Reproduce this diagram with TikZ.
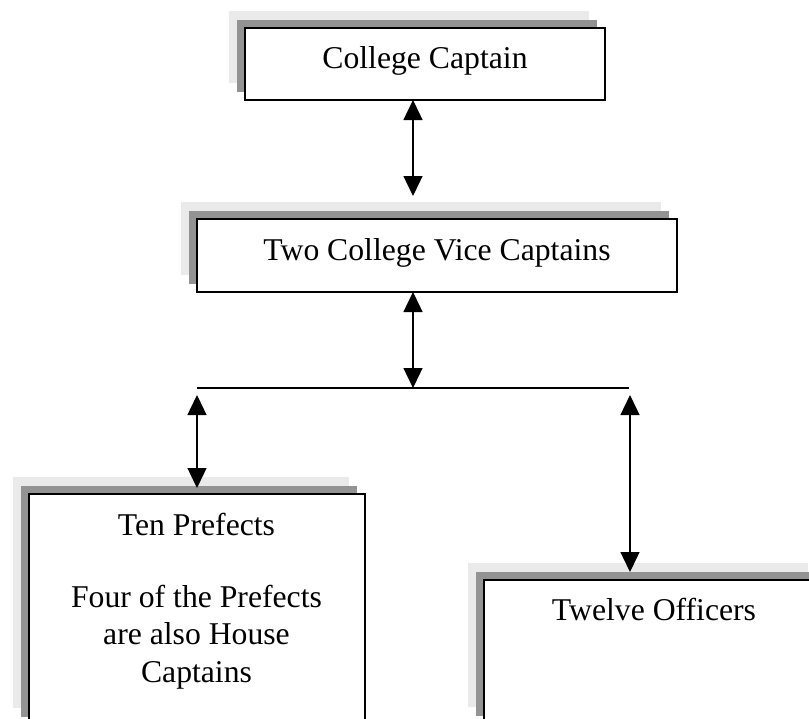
\documentclass[tikz,border=0pt]{standalone}
\usepackage{fontspec}
\setmainfont{Liberation Serif}
\usetikzlibrary{arrows.meta,shadows}
\definecolor{shadelight}{RGB}{234,234,234}
\definecolor{shadedark}{RGB}{147,147,147}
\begin{document}
\begin{tikzpicture}[x=1pt,y=-1pt,
  orgbox/.style={draw=black, line width=1.8pt, fill=white, rectangle,
    inner sep=0pt, outer sep=0pt, anchor=north west,
    font=\fontsize{31.7}{37.5}\selectfont,
    general shadow={fill=shadelight, shadow xshift=-16pt, shadow yshift=17pt},
    general shadow={fill=shadedark, shadow xshift=-8pt, shadow yshift=8pt}},
  orgtext/.style={font=\fontsize{31.7}{37.5}\selectfont, align=center, inner sep=0pt},
  link/.style={line width=1.4pt,
    {Triangle[width=19pt,length=20pt]}-{Triangle[width=19pt,length=20pt]}},
  bus/.style={line width=1.4pt}
]
\useasboundingbox (0,0) rectangle (809,718);

% boxes of the chart
\node[orgbox, minimum width=360pt, text height=40pt, text depth=32pt]
  (cc) at (245,28) {College Captain};
\node[orgbox, minimum width=480pt, text height=41pt, text depth=32pt]
  (vc) at (197,219) {Two College Vice Captains};
\node[orgbox, minimum width=336pt, minimum height=231pt] (pf) at (29,494) {};
\node[orgtext] (pftext) at (196.5,601.1)
  {Ten Prefects\\[34.5pt]Four of the Prefects\\are also House\\Captains};
\node[orgbox, minimum width=340pt, text height=40pt, text depth=104pt]
  (of) at (484,580) {Twelve Officers};

% connectors
\coordinate (t1) at (413,196);
\draw[link] (cc.south -| t1) -- (t1);

\coordinate (busmid) at (413,388);
\coordinate (busL) at (197,388);
\coordinate (busR) at (629,388);
\coordinate (dropR) at (630,395);
\draw[link] (vc.south -| busmid) -- (busmid);
\draw[bus] (busL) -- (busR);

\draw[link] ([yshift=-7pt]busL) -- ([yshift=6pt]pf.north -| busL);
\draw[link] (dropR) -- ([yshift=8pt]of.north -| dropR);
\end{tikzpicture}
\end{document}
